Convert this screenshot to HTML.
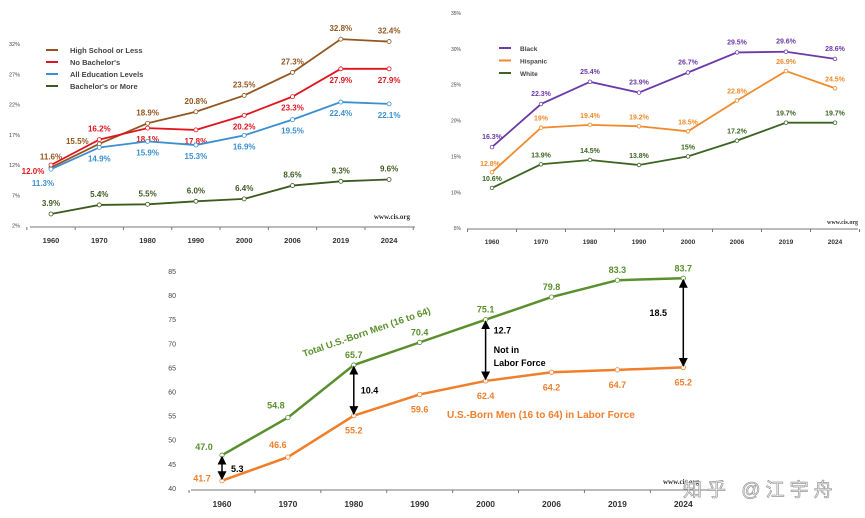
<!DOCTYPE html>
<html><head><meta charset="utf-8">
<style>
body{margin:0;background:#fff;width:865px;height:518px;overflow:hidden;font-family:"Liberation Sans","Noto Sans CJK SC",sans-serif}
svg{position:absolute;left:0;top:0}
</style></head><body>
<svg id="s" width="865" height="518" xmlns="http://www.w3.org/2000/svg"></svg>
<script>
const years=["1960","1970","1980","1990","2000","2006","2019","2024"];
// Chart 1: education
const c1Ticks=[32,27,22,17,12,7,2];
const c1HS=[11.6,15.5,18.9,20.8,23.5,27.3,32.8,32.4];
const c1NoBach=[12.0,16.2,18.1,17.8,20.2,23.3,27.9,27.9];
const c1All=[11.3,14.9,15.9,15.3,16.9,19.5,22.4,22.1];
const c1Bach=[3.9,5.4,5.5,6.0,6.4,8.6,9.3,9.6];
// Chart 2: race
const c2Ticks=[35,30,25,20,15,10,5];
const c2Black=[16.3,22.3,25.4,23.9,26.7,29.5,29.6,28.6];
const c2Hisp=[12.8,19,19.4,19.2,18.5,22.8,26.9,24.5];
const c2White=[10.6,13.9,14.5,13.8,15,17.2,19.7,19.7];
const c2Labels={black:["16.3%","22.3%","25.4%","23.9%","26.7%","29.5%","29.6%","28.6%"],hisp:["12.8%","19%","19.4%","19.2%","18.5%","22.8%","26.9%","24.5%"],white:["10.6%","13.9%","14.5%","13.8%","15%","17.2%","19.7%","19.7%"]};
// Chart 3: men
const c3Ticks=[85,80,75,70,65,60,55,50,45,40];
const c3Total=[47.0,54.8,65.7,70.4,75.1,79.8,83.3,83.7];
const c3Labor=[41.7,46.6,55.2,59.6,62.4,64.2,64.7,65.2];

const S=document.getElementById('s');
const NS="http://www.w3.org/2000/svg";
function mk(tag,attrs,name,txt){const e=document.createElementNS(NS,tag);for(const k in attrs)e.setAttribute(k,attrs[k]);


if(txt!==undefined)e.textContent=txt;S.appendChild(e);return e;}

function chart(cfg){
  const X=i=>cfg.x0+i*cfg.dx;
  const Y=v=>cfg.yTop+(cfg.vTop-v)*cfg.k;
  cfg.ticks.forEach(t=>mk('text',{x:cfg.tickX,y:Y(t)+2,'font-size':cfg.tickFs,fill:'#444','text-anchor':'end'},'y-tick-label',t+cfg.tickSuffix));
  mk('line',{x1:cfg.axL,x2:cfg.axR,y1:cfg.axY,y2:cfg.axY,stroke:'#777','stroke-width':1},'x-axis');
  for(let i=0;i<=years.length;i++){const tx=cfg.x0+(i-0.5)*cfg.dx;mk('line',{x1:tx,x2:tx,y1:cfg.axY,y2:cfg.axY+3,stroke:'#777'},'x-tick');}
  years.forEach((y,i)=>mk('text',{x:X(i),y:cfg.axY+cfg.yrDy,'font-size':cfg.yrFs,'font-weight':'bold',fill:'#333','text-anchor':'middle'},'x-tick-label',y));
  cfg.series.forEach(s=>{
    mk('polyline',{points:s.v.map((v,i)=>X(i)+','+Y(v)).join(' '),fill:'none',stroke:s.c,'stroke-width':cfg.lw},s.name+'-line');
    s.v.forEach((v,i)=>mk('circle',{cx:X(i),cy:Y(v),r:cfg.r,fill:'#fff',stroke:s.c,'stroke-width':0.8},s.name+'-point'));
    s.v.forEach((v,i)=>{const o=s.off[i];mk('text',{x:X(i)+o[0],y:Y(v)+o[1]+3,'font-size':cfg.lblFs,'font-weight':'bold',fill:s.c,'text-anchor':'middle'},s.name+'-value-label',s.lab?s.lab[i]:(cfg.fmt(v)));});
  });
  return {X,Y};
}
const up=(d)=>years.map(()=>[0,d]);
// Chart 1
const hsOff=up(-11);hsOff[1]=[-22,-3];
const nbOff=up(11);nbOff[0]=[-18,6];nbOff[1]=[0,-11];
const alOff=up(11);alOff[0]=[-8,14];
chart({x0:51,dx:48.3,yTop:44,vTop:32,k:6.05,ticks:c1Ticks,tickX:20,tickFs:5.5,tickSuffix:'%',axL:30,axR:415,axY:227,yrDy:16,yrFs:7.5,lw:1.8,r:2,lblFs:8,fmt:v=>v.toFixed(1)+'%',
 series:[{name:'high-school-or-less',v:c1HS,c:'#94561f',off:hsOff},{name:'no-bachelors',v:c1NoBach,c:'#e0141e',off:nbOff},{name:'all-education',v:c1All,c:'#3a8fd0',off:alOff},{name:'bachelors-or-more',v:c1Bach,c:'#3d5a1f',off:up(-11)}]});
[['High School or Less','#94561f'],["No Bachelor's",'#e0141e'],['All Education Levels','#3a8fd0'],["Bachelor's or More",'#3d5a1f']].forEach((l,i)=>{
 mk('line',{x1:46,x2:58,y1:50+i*12,y2:50+i*12,stroke:l[1],'stroke-width':2},'legend-swatch');
 mk('text',{x:70,y:53+i*12,'font-size':7.5,'font-weight':'bold',fill:'#444'},'legend-entry',l[0]);});
mk('text',{x:410,y:219,'font-size':7,'font-weight':'bold',fill:'#333','text-anchor':'end','font-family':'Liberation Serif'},'source-note','www.cis.org');
// Chart 2
const hOff=up(-10);hOff[0]=[-2,-9];
chart({x0:492,dx:49,yTop:13,vTop:35,k:7.17,ticks:c2Ticks,tickX:461,tickFs:5,tickSuffix:'%',axL:467,axR:858,axY:229,yrDy:15,yrFs:6.5,lw:1.8,r:1.8,lblFs:7,fmt:v=>v+'%',
 series:[{name:'black',v:c2Black,c:'#6b3aa8',off:up(-11),lab:c2Labels.black},{name:'hispanic',v:c2Hisp,c:'#f08a2c',off:hOff,lab:c2Labels.hisp},{name:'white',v:c2White,c:'#3b6522',off:up(-10),lab:c2Labels.white}]});
[['Black','#6b3aa8'],['Hispanic','#f08a2c'],['White','#3b6522']].forEach((l,i)=>{
 mk('line',{x1:499,x2:511,y1:48+i*12.5,y2:48+i*12.5,stroke:l[1],'stroke-width':2},'legend-swatch');
 mk('text',{x:520,y:51+i*12.5,'font-size':6.5,'font-weight':'bold',fill:'#444'},'legend-entry',l[0]);});
mk('text',{x:858,y:224,'font-size':6,'font-weight':'bold',fill:'#333','text-anchor':'end','font-family':'Liberation Serif'},'source-note','www.cis.org');
// Chart 3
const tOff=up(-10);tOff[0]=[-18,-8];tOff[1]=[-12,-12];
const lOff=up(15);lOff[0]=[-20,-2];lOff[1]=[-10,-12];
const c3=chart({x0:222,dx:65.9,yTop:272,vTop:85,k:4.82,ticks:c3Ticks,tickX:176,tickFs:7,tickSuffix:'',axL:191,axR:718,axY:490,yrDy:17,yrFs:8.5,lw:2.5,r:2.2,lblFs:9,fmt:v=>v.toFixed(1),
 series:[{name:'total-men',v:c3Total,c:'#5a8f2e',off:tOff},{name:'men-in-labor-force',v:c3Labor,c:'#f07f2c',off:lOff}]});
mk('defs',{},'arrow-defs').innerHTML='<marker id="ah" markerWidth="6" markerHeight="6" refX="3" refY="3" orient="auto-start-reverse"><path d="M0,0 L6,3 L0,6 z" fill="#000"/></marker>';
[[0,'5.3',9,4],[2,'10.4',7,3],[4,'12.7',8,-17],[7,'18.5',-25,-7]].forEach(a=>{const i=a[0];const x=c3.X(i);
 mk('line',{x1:x,x2:x,y1:c3.Y(c3Total[i])+5,y2:c3.Y(c3Labor[i])-5,stroke:'#000','stroke-width':1.5,'marker-start':'url(#ah)','marker-end':'url(#ah)'},'gap-arrow');
 const my=(c3.Y(c3Total[i])+c3.Y(c3Labor[i]))/2+a[3];
 mk('text',{x:x+a[2],y:my,'font-size':9,'font-weight':'bold',fill:'#000','text-anchor':i==7?'middle':'start'},'gap-label',a[1]);});
mk('text',{x:c3.X(4)+8,y:353,'font-size':9,'font-weight':'bold',fill:'#000'},'gap-label','Not in');
mk('text',{x:c3.X(4)+8,y:366,'font-size':9,'font-weight':'bold',fill:'#000'},'gap-label','Labor Force');
mk('text',{x:0,y:0,'font-size':9.5,'font-weight':'bold',fill:'#5a8f2e',transform:'translate(304,357) rotate(-19)'},'series-label-total','Total U.S.-Born  Men (16 to 64)');
mk('text',{x:447,y:418,'font-size':10,'font-weight':'bold',fill:'#f07f2c'},'series-label-labor','U.S.-Born Men (16 to 64) in Labor Force');
mk('text',{x:663,y:484,'font-size':7,'font-weight':'bold',fill:'#333','font-family':'Liberation Serif'},'source-note','www.cis.org');
mk('text',{x:683,y:496,'font-size':19,'letter-spacing':5,fill:'#f4f4f4',stroke:'#999','stroke-width':0.7},'watermark','知乎 @江宇舟');
</script>
</body></html>
